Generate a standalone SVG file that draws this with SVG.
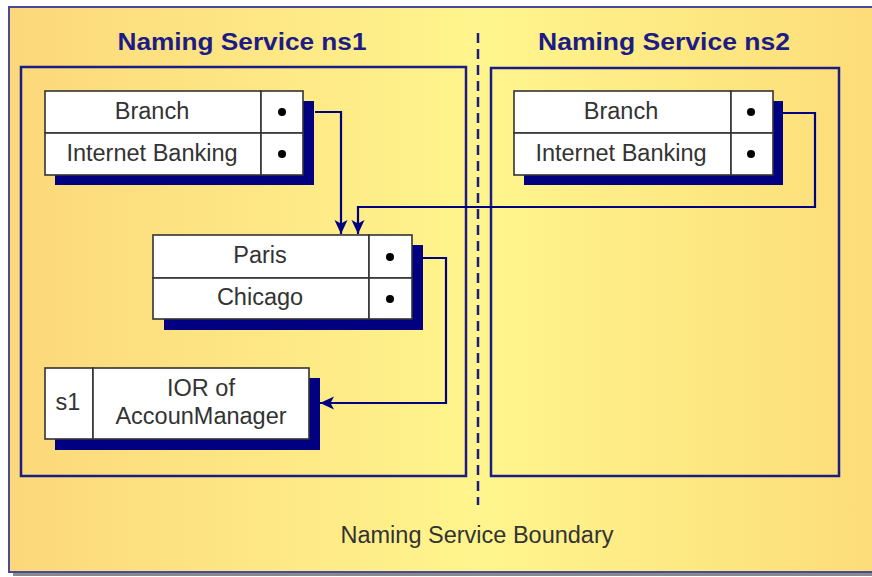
<svg xmlns="http://www.w3.org/2000/svg" width="872" height="577" viewBox="0 0 872 577">
<defs>
<linearGradient id="bg" x1="0" y1="0" x2="1" y2="0">
<stop offset="0" stop-color="#FCD87A"/>
<stop offset="0.55" stop-color="#FFF58D"/>
<stop offset="1" stop-color="#FCDC78"/>
</linearGradient>
<marker id="ah" markerWidth="14" markerHeight="14" viewBox="0 0 14 14" refX="14" refY="7" orient="auto" markerUnits="userSpaceOnUse">
<path d="M0,0.5 L14,7 L0,13.5 L3.5,7 Z" fill="#000080"/>
</marker>
<style>
.title{font-family:"Liberation Sans",Arial,sans-serif;font-weight:bold;font-size:24px;fill:#1C1C86;text-anchor:middle}
.lbl{font-family:"Liberation Sans",Arial,sans-serif;font-size:23.5px;fill:#333333;text-anchor:middle}
.cell{fill:#FFFFFF;stroke:#333333;stroke-width:1.6}
.shadow{fill:#000080}
.ns{fill:none;stroke:#1C1C86;stroke-width:2.5}
.conn{fill:none;stroke:#000080;stroke-width:2.2}
.dot{fill:#000000}
</style>
</defs>

<g id="frame">
<rect x="13" y="11" width="862" height="565" fill="#8A8A8A"/>
<rect x="9" y="7" width="870" height="565" fill="url(#bg)" stroke="#4A4A9A" stroke-width="2"/>
<line x1="478" y1="33" x2="478" y2="505" stroke="#1C1C86" stroke-width="2.5" stroke-dasharray="10,6"/>
<text class="lbl" x="477" y="543">Naming Service Boundary</text>
</g>

<g id="ns1">
<rect class="ns" x="21" y="67" width="445" height="409"/>
<text class="title" x="242" y="50" textLength="249" lengthAdjust="spacingAndGlyphs">Naming Service ns1</text>
</g>

<g id="ns2">
<rect class="ns" x="491" y="68" width="348" height="408"/>
<text class="title" x="664" y="50" textLength="252" lengthAdjust="spacingAndGlyphs">Naming Service ns2</text>
</g>

<g id="table-ns1">
<rect class="shadow" x="55" y="101" width="259" height="84"/>
<rect class="cell" x="45" y="91" width="216" height="42"/>
<rect class="cell" x="261" y="91" width="42" height="42"/>
<rect class="cell" x="45" y="133" width="216" height="42"/>
<rect class="cell" x="261" y="133" width="42" height="42"/>
<text class="lbl" x="152" y="119">Branch</text>
<text class="lbl" x="152" y="161">Internet Banking</text>
<circle class="dot" cx="282" cy="112" r="4"/>
<circle class="dot" cx="282" cy="154" r="4"/>
</g>

<g id="table-ns2">
<rect class="shadow" x="524" y="101" width="259" height="84"/>
<rect class="cell" x="514" y="91" width="217" height="42"/>
<rect class="cell" x="731" y="91" width="42" height="42"/>
<rect class="cell" x="514" y="133" width="217" height="42"/>
<rect class="cell" x="731" y="133" width="42" height="42"/>
<text class="lbl" x="621" y="119">Branch</text>
<text class="lbl" x="621" y="161">Internet Banking</text>
<circle class="dot" cx="751" cy="112" r="4"/>
<circle class="dot" cx="751" cy="154" r="4"/>
</g>

<g id="table-branch">
<rect class="shadow" x="164" y="245" width="259" height="85"/>
<rect class="cell" x="153" y="235" width="216" height="43"/>
<rect class="cell" x="369" y="235" width="43" height="43"/>
<rect class="cell" x="153" y="278" width="216" height="41"/>
<rect class="cell" x="369" y="278" width="43" height="41"/>
<text class="lbl" x="260" y="263">Paris</text>
<text class="lbl" x="260" y="305">Chicago</text>
<circle class="dot" cx="390" cy="257" r="4"/>
<circle class="dot" cx="390" cy="299" r="4"/>
</g>

<g id="ior">
<rect class="shadow" x="55" y="378" width="265" height="72"/>
<rect class="cell" x="45" y="368" width="48" height="71"/>
<rect class="cell" x="93" y="368" width="216" height="71"/>
<text class="lbl" x="68" y="410">s1</text>
<text class="lbl" x="201" y="396">IOR of</text>
<text class="lbl" x="201" y="424">AccounManager</text>
</g>

<g id="connectors">
<path class="conn" d="M315,112 H341 V234" marker-end="url(#ah)"/>
<path class="conn" d="M783,113 H815 V207 H358 V234" marker-end="url(#ah)"/>
<path class="conn" d="M423,258 H446 V403 H320" marker-end="url(#ah)"/>
</g>
</svg>
